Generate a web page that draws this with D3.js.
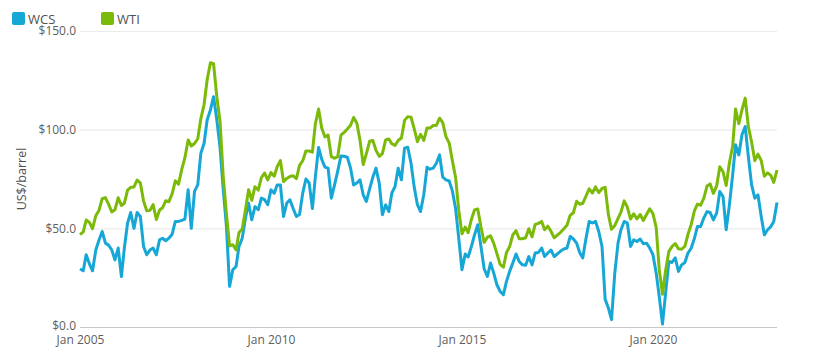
<!DOCTYPE html>
<html>
<head>
<meta charset="utf-8">
<script src="https://cdn.jsdelivr.net/npm/d3@7"></script>
<style>
  html, body { margin: 0; padding: 0; background: #ffffff; }
  svg { display: block; font-family: "Open Sans", "Noto Sans", sans-serif; }
</style>
</head>
<body>
<svg id="chart" width="828" height="359"></svg>
<script>
// ---- data ----
const seriesNames = ["WCS", "WTI"];
const seriesColors = ["#17a7d6", "#7cba0a"];
const firstMonth = "2005-01";   // monthly data, Jan 2005 .. Apr 2023
const xTickLabels = ["Jan 2005", "Jan 2010", "Jan 2015", "Jan 2020"];
const yTicks = [0, 50, 100, 150];
const yTitle = "US$/barrel";

const wti = [
  46.8, 48.2, 54.2, 53.0, 49.8, 56.4, 59.0, 65.0, 65.6, 62.3, 58.3, 59.4,
  65.5, 61.6, 62.7, 69.4, 70.8, 71.0, 74.4, 73.0, 63.8, 58.9, 59.1, 62.0,
  54.5, 59.3, 60.4, 64.0, 63.5, 67.5, 74.1, 72.4, 79.9, 85.8, 94.8, 91.7,
  93.0, 95.4, 105.5, 112.6, 125.4, 133.9, 133.4, 116.7, 104.1, 76.6, 57.3, 41.1,
  41.7, 39.1, 47.9, 49.7, 59.0, 69.6, 64.2, 71.1, 69.4, 75.7, 78.0, 74.5,
  78.3, 76.4, 81.2, 84.3, 73.7, 75.3, 76.3, 76.6, 75.2, 81.9, 84.3, 89.2,
  89.2, 88.6, 102.9, 110.5, 100.9, 96.3, 97.3, 86.3, 85.5, 86.3, 97.2, 98.6,
  100.3, 102.2, 106.2, 103.3, 94.7, 82.3, 87.9, 94.1, 94.5, 89.5, 86.5, 87.9,
  94.8, 95.3, 92.9, 92.0, 94.5, 95.8, 104.7, 106.6, 106.3, 100.5, 93.9, 97.6,
  94.6, 100.8, 100.8, 102.1, 102.2, 105.8, 103.6, 96.5, 93.2, 84.4, 75.8, 59.3,
  47.2, 50.6, 47.8, 54.5, 59.3, 59.8, 50.9, 42.9, 45.5, 46.2, 42.4, 37.2,
  31.7, 30.3, 37.6, 40.8, 46.7, 48.8, 44.7, 44.7, 45.2, 49.8, 45.7, 52.0,
  52.5, 53.5, 49.3, 51.1, 48.5, 45.2, 46.6, 48.0, 49.8, 51.6, 56.6, 57.9,
  63.7, 62.2, 62.7, 66.3, 70.0, 67.9, 71.0, 68.1, 70.2, 70.8, 57.0, 49.5,
  51.4, 55.0, 58.2, 63.9, 60.8, 54.7, 57.4, 54.8, 57.0, 54.0, 57.0, 59.9,
  57.5, 50.5, 29.2, 16.6, 28.6, 38.3, 40.7, 42.3, 39.6, 39.4, 40.9, 47.0,
  52.0, 59.0, 62.3, 61.7, 65.2, 71.4, 72.5, 67.7, 71.5, 81.2, 78.7, 71.7,
  83.2, 91.6, 110.5, 103.0, 110.0, 116.0, 101.6, 93.7, 84.3, 87.6, 84.4, 76.4,
  78.1, 76.8, 73.3, 79.5
];

const wcs = [
  29.4, 28.5, 36.6, 32.0, 28.5, 39.0, 44.0, 48.4, 42.5, 41.5, 39.0, 34.0,
  40.0, 25.6, 40.0, 52.7, 58.0, 50.0, 58.0, 56.0, 40.8, 36.6, 39.0, 40.0,
  36.6, 44.2, 45.0, 43.7, 45.0, 47.0, 53.5, 53.5, 54.0, 54.7, 69.5, 50.0,
  68.7, 72.0, 88.0, 93.0, 105.0, 110.0, 116.7, 105.0, 91.0, 70.0, 51.0, 20.6,
  29.0, 30.7, 40.8, 45.0, 55.0, 62.8, 54.3, 61.0, 59.4, 65.3, 64.5, 62.0,
  69.5, 67.8, 72.0, 72.0, 56.0, 62.8, 64.5, 60.0, 56.0, 57.0, 68.0, 75.0,
  73.0, 60.0, 76.0, 91.0, 85.0, 81.0, 80.5, 65.3, 72.0, 79.0, 86.7, 86.5,
  86.0, 80.5, 72.0, 73.0, 74.6, 67.0, 63.6, 70.0, 76.0, 80.5, 72.9, 56.9,
  61.9, 58.5, 67.8, 71.2, 80.5, 74.6, 90.6, 91.1, 83.0, 71.0, 62.0, 58.5,
  67.0, 81.0, 80.0, 80.5, 83.0, 87.2, 76.0, 74.6, 74.0, 69.0, 60.0, 45.0,
  29.0, 37.0, 35.5, 40.8, 46.7, 51.8, 41.0, 29.5, 25.6, 32.4, 27.3, 21.4,
  18.0, 16.4, 23.0, 28.2, 32.4, 37.0, 33.2, 31.5, 31.3, 35.7, 31.5, 37.5,
  37.8, 40.0, 35.7, 37.5, 39.0, 35.7, 37.0, 38.5, 39.5, 40.0, 45.9, 44.6,
  42.5, 37.5, 35.0, 45.0, 53.5, 52.7, 53.5, 48.4, 40.8, 14.0, 9.6, 3.7,
  27.3, 42.5, 49.3, 53.5, 52.7, 40.8, 44.2, 43.3, 44.6, 42.2, 42.5, 40.0,
  36.6, 27.3, 15.5, 1.5, 17.2, 33.2, 32.7, 35.0, 28.2, 31.5, 32.7, 37.5,
  40.0, 45.0, 50.9, 50.9, 55.2, 58.5, 58.0, 54.3, 57.7, 68.7, 66.1, 49.3,
  61.9, 77.1, 92.3, 87.2, 97.4, 101.6, 86.4, 72.0, 65.3, 67.0, 56.0, 46.7,
  49.3, 50.9, 53.5, 63.1
];

// ---- layout ----
const W = 828, H = 359;
const margin = { left: 80, right: 51, top: 31, bottom: 32 };
const svg = d3.select("#chart");

const parseMonth = d3.timeParse("%Y-%m");
const start = parseMonth(firstMonth);
const months = wti.map((_, i) => d3.timeMonth.offset(start, i));

const x = d3.scaleTime()
  .domain([months[0], months[months.length - 1]])
  .range([margin.left, W - margin.right]);
const y = d3.scaleLinear()
  .domain([0, 150])
  .range([H - margin.bottom, margin.top]);

// gridlines + y labels
const yAxis = d3.axisLeft(y)
  .tickValues(yTicks)
  .tickSize(-(W - margin.right - margin.left))
  .tickPadding(4)
  .tickFormat(d => "$" + d3.format(".1f")(d));
const gy = svg.append("g")
  .attr("transform", `translate(${margin.left},0)`)
  .call(yAxis);
gy.select(".domain").remove();
gy.selectAll(".tick line")
  .attr("stroke", d => d === 0 ? "#c8c8c8" : "#ebebeb")
  .attr("stroke-width", 1.2);
gy.selectAll(".tick text")
  .attr("fill", "#605e5c")
  .attr("dy", d => d === 0 ? "0.2em" : "0.32em")
  .style("font-size", "12px")
  .style("font-family", "'Open Sans', sans-serif");

// x labels
const tickDates = xTickLabels.map(s => d3.timeParse("%b %Y")(s));
const gx = svg.append("g")
  .attr("transform", `translate(0,${H - margin.bottom})`)
  .call(d3.axisBottom(x)
    .tickValues(tickDates)
    .tickSize(0)
    .tickPadding(8)
    .tickFormat((d, i) => xTickLabels[i]));
gx.select(".domain").remove();
gx.selectAll(".tick text")
  .attr("fill", "#605e5c")
  .style("font-size", "12px")
  .style("font-family", "'Open Sans', sans-serif");

// y title
svg.append("text")
  .attr("transform", `translate(26,${(y(0) + y(150)) / 2}) rotate(-90)`)
  .attr("text-anchor", "middle")
  .attr("fill", "#505050")
  .style("font-size", "12.5px")
  .text(yTitle);

// lines
const line = d3.line()
  .x((d, i) => x(months[i]))
  .y(d => y(d));
[wcs, wti].forEach((vals, k) => {
  svg.append("path")
    .datum(vals)
    .attr("fill", "none")
    .attr("stroke", seriesColors[k])
    .attr("stroke-width", 3)
    .attr("stroke-linejoin", "round")
    .attr("d", line);
});

// legend
const legendX = [12, 101];
seriesNames.forEach((name, k) => {
  const g = svg.append("g").attr("transform", `translate(${legendX[k]},12)`);
  g.append("rect")
    .attr("width", 13).attr("height", 13).attr("rx", 2)
    .attr("fill", seriesColors[k]);
  g.append("text")
    .attr("x", 16).attr("y", 11.5)
    .attr("fill", "#505050")
    .style("font-size", "13px")
    .text(name);
});
</script>
</body>
</html>
